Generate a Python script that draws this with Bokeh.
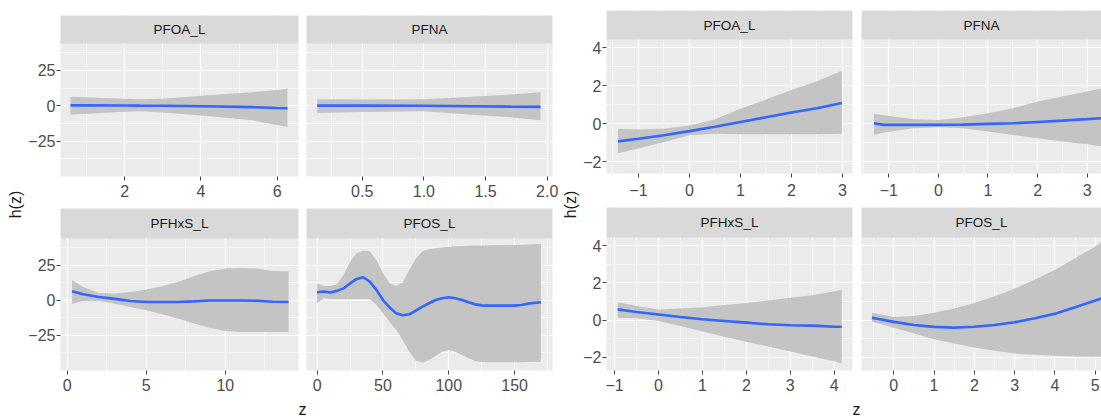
from bokeh.plotting import figure
from bokeh.layouts import row, column
from bokeh.models import Range1d, FixedTicker, BoxAnnotation, Label, NumeralTickFormatter
from bokeh.embed import file_html
from bokeh.resources import INLINE
from bokeh.core.properties import value

FONT = "Liberation Sans"

# ---------------- data: left model (A) ----------------
A_PFOA_L_z = [0.58, 1.0, 2.0, 2.4, 3.0, 4.07, 5.34, 6.0, 6.27]
A_PFOA_L_est = [0.3, 0.3, 0.2, 0.1, 0.0, -0.4, -1.0, -1.6, -1.8]
A_PFOA_L_hi = [6.4, 6.0, 5.0, 4.6, 5.0, 7.2, 9.5, 11.2, 12.0]
A_PFOA_L_lo = [-6.4, -5.6, -4.3, -3.9, -4.8, -7.0, -10.3, -13.6, -15.0]

A_PFNA_z = [0.135, 0.5, 1.0, 1.39, 1.7, 1.946]
A_PFNA_est = [0.1, 0.1, 0.0, -0.3, -0.6, -0.8]
A_PFNA_hi = [4.6, 4.4, 4.6, 6.4, 8.0, 9.5]
A_PFNA_lo = [-5.2, -4.4, -3.9, -6.4, -8.2, -10.3]

A_PFHxS_L_z = [0.3, 1, 2, 3, 4, 5, 6, 7, 8, 9, 10, 11, 12, 13, 14]
A_PFHxS_L_est = [6.4, 4.3, 2.4, 1.0, -0.5, -1.2, -1.2, -1.2, -0.8, -0.2, -0.1, -0.1, -0.3, -1.0, -1.2]
A_PFHxS_L_hi = [14.3, 9.5, 5.2, 4.8, 5.9, 7.6, 10.0, 13.0, 17.1, 20.7, 22.6, 23.0, 22.6, 20.9, 20.7]
A_PFHxS_L_lo = [-2.4, -0.5, -0.5, -2.4, -4.8, -7.1, -10.0, -13.0, -16.6, -19.5, -21.9, -22.6, -22.6, -22.6, -22.6]

A_PFOS_L_z = [0, 5, 10, 15, 20, 25, 30, 35, 40, 45, 50, 55, 60, 65, 70, 75, 80, 85, 90, 95,
              100, 105, 110, 115, 120, 125, 130, 140, 150, 155, 160, 170]
A_PFOS_L_est = [5.7, 6.2, 5.5, 6.7, 8.5, 12.0, 15.2, 16.4, 13.3, 7.4, 0.2, -5.0, -9.3, -10.7, -10.0, -7.4,
                -4.5, -2.1, 0.2, 1.4, 2.1, 1.4, 0.2, -1.4, -2.9, -3.6, -3.8, -3.8, -3.8, -3.3, -2.4, -1.4]
A_PFOS_L_hi = [12.0, 10.2, 10.2, 11.4, 18.0, 27.5, 33.5, 35.4, 34.7, 28.7, 19.2, 12.1, 10.2, 12.6, 21.6, 29.9,
               34.7, 36.3, 37.0, 37.6, 38.2, 38.4, 38.7, 38.8, 39.0, 39.1, 39.2, 39.3, 39.4, 39.6, 39.8, 40.1]
A_PFOS_L_lo = [-2.1, 1.4, 1.0, 1.0, 1.0, 1.0, 1.0, 1.0, 1.0, -3.3, -9.3, -15.2, -21.1, -28.3, -36.6, -43.0,
               -44.4, -42.5, -39.7, -36.6, -35.4, -36.6, -39.0, -41.3, -43.2, -44.0, -44.2, -44.2, -44.2, -44.1, -44.0, -43.7]

# ---------------- data: right model (B) ----------------
B_PFOA_L_z = [-1.4, -1.0, -0.5, 0.0, 0.5, 1.0, 1.5, 2.0, 2.5, 2.99]
B_PFOA_L_est = [-0.92, -0.78, -0.6, -0.38, -0.15, 0.1, 0.35, 0.6, 0.82, 1.1]
B_PFOA_L_hi = [-0.25, -0.3, -0.25, -0.08, 0.25, 0.8, 1.28, 1.78, 2.25, 2.8]
B_PFOA_L_lo = [-1.55, -1.3, -0.95, -0.6, -0.52, -0.55, -0.55, -0.55, -0.54, -0.52]

B_PFNA_z = [-1.3, -1.1, -0.5, 0.0, 0.5, 1.0, 1.5, 2.0, 2.5, 3.0, 3.3]
B_PFNA_est = [0.03, -0.05, -0.05, -0.05, -0.04, 0.0, 0.03, 0.1, 0.17, 0.25, 0.3]
B_PFNA_hi = [0.53, 0.45, 0.25, 0.21, 0.35, 0.56, 0.82, 1.18, 1.44, 1.7, 1.88]
B_PFNA_lo = [-0.58, -0.45, -0.23, -0.18, -0.23, -0.4, -0.58, -0.75, -0.93, -1.07, -1.19]

B_PFHxS_L_z = [-0.93, -0.5, 0.0, 0.5, 1.0, 1.5, 2.0, 2.5, 3.0, 3.5, 4.0, 4.17]
B_PFHxS_L_est = [0.57, 0.43, 0.3, 0.16, 0.04, -0.05, -0.14, -0.23, -0.28, -0.3, -0.36, -0.36]
B_PFHxS_L_hi = [0.96, 0.75, 0.57, 0.62, 0.69, 0.8, 0.92, 1.05, 1.19, 1.33, 1.55, 1.63]
B_PFHxS_L_lo = [0.12, 0.09, -0.05, -0.32, -0.62, -0.9, -1.16, -1.42, -1.69, -1.96, -2.22, -2.33]

B_PFOS_L_z = [-0.54, 0.0, 0.5, 1.0, 1.5, 2.0, 2.5, 3.0, 3.5, 4.0, 4.5, 5.0, 5.15]
B_PFOS_L_est = [0.12, -0.1, -0.27, -0.37, -0.41, -0.36, -0.27, -0.12, 0.09, 0.34, 0.69, 1.05, 1.16]
B_PFOS_L_hi = [0.39, 0.16, 0.21, 0.39, 0.62, 0.92, 1.28, 1.69, 2.17, 2.7, 3.32, 3.95, 4.2]
B_PFOS_L_lo = [-0.09, -0.41, -0.73, -1.03, -1.26, -1.48, -1.65, -1.8, -1.87, -1.92, -1.96, -1.97, -1.97]

# tick values
A_PFOA_L_xt = [2, 4, 6]
A_PFNA_xt = [0.5, 1.0, 1.5, 2.0]
A_PFHxS_L_xt = [0, 5, 10]
A_PFOS_L_xt = [0, 50, 100, 150]
A_yt = [-25, 0, 25]
B_PFOA_L_xt = [-1, 0, 1, 2, 3]
B_PFNA_xt = [-1, 0, 1, 2, 3]
B_PFHxS_L_xt = [-1, 0, 1, 2, 3, 4]
B_PFOS_L_xt = [0, 1, 2, 3, 4, 5]
B_yt = [-2, 0, 2, 4]

PANEL_BG = "#EBEBEB"
STRIP_BG = "#D9D9D9"
RIBBON = "#C4C4C4"
LINE = "#3366FF"


def minors(ticks, lo, hi):
    step = ticks[1] - ticks[0]
    cands = [ticks[0] - step / 2] + [t + step / 2 for t in ticks]
    return [c for c in cands if lo <= c <= hi]


def panel(title, z, est, lo, hi, xr, yr, xt, yt, width, height, mbl, mbr, mbt, mbb,
          strip_px, show_y, standoff=5, xfmt=None):
    frame_h = height - mbt - mbb
    panel_h = frame_h - strip_px
    y0, y1 = yr
    per_px = (y1 - y0) / panel_h
    ytop = y1 + strip_px * per_px
    p = figure(width=width, height=height, x_range=Range1d(xr[0], xr[1]),
               y_range=Range1d(y0, ytop), output_backend="svg", toolbar_location=None,
               y_axis_location="left" if show_y else None,
               min_border_left=mbl, min_border_right=mbr, min_border_top=mbt,
               min_border_bottom=mbb)
    p.background_fill_color = PANEL_BG
    p.border_fill_color = "white"
    p.outline_line_color = None

    xg = FixedTicker(ticks=xt, minor_ticks=minors(xt, xr[0], xr[1]))
    yg = FixedTicker(ticks=yt, minor_ticks=minors(yt, y0, y1))
    for g, t in ((p.xgrid, xg), (p.ygrid, yg)):
        g.ticker = t
        g.grid_line_color = "white"
        g.grid_line_width = 1.2
        g.minor_grid_line_color = "white"
        g.minor_grid_line_width = 0.6

    axes = [p.xaxis[0]] + ([p.yaxis[0]] if show_y else [])
    for ax in axes:
        ax.axis_line_color = None
        ax.major_tick_line_color = "#444444"
        ax.major_tick_line_width = 1
        ax.major_tick_out = 4
        ax.major_tick_in = 0
        ax.minor_tick_line_color = None
        ax.major_label_text_color = "#4D4D4D"
        ax.major_label_text_font = FONT
        ax.major_label_text_font_size = "16px"
    p.xaxis.ticker = FixedTicker(ticks=xt)
    p.xaxis.major_label_standoff = standoff
    if xfmt is not None:
        p.xaxis.formatter = xfmt
    if show_y:
        p.yaxis.ticker = FixedTicker(ticks=yt)
        p.yaxis.major_label_standoff = 1

    p.varea(x=z, y1=lo, y2=hi, fill_color=RIBBON, fill_alpha=1.0)
    p.line(x=z, y=est, line_color=LINE, line_width=2.6)

    strip = BoxAnnotation(bottom=y1, fill_color=STRIP_BG, fill_alpha=1.0, line_color=None)
    p.add_layout(strip)
    p.add_layout(Label(x=(xr[0] + xr[1]) / 2, y=y1 + strip_px * per_px / 2, text=title,
                       text_align="center", text_baseline="middle", text_font=FONT,
                       text_font_size="13.5px", text_color="#1A1A1A"))
    return p


def text_fig(width, height, xr, yr, tx, ty, txt, angle=0.0):
    f = figure(width=width, height=height, x_range=Range1d(*xr), y_range=Range1d(*yr),
               output_backend="svg", toolbar_location=None, x_axis_location=None,
               y_axis_location=None, min_border=0)
    f.min_border_left = f.min_border_right = f.min_border_top = f.min_border_bottom = 0
    f.outline_line_color = None
    f.xgrid.visible = False
    f.ygrid.visible = False
    f.background_fill_color = "white"
    f.text(x=[tx], y=[ty], text=[txt], angle=angle, text_align="center",
           text_baseline="middle", text_font=value(FONT), text_font_size="16px",
           text_color="#1A1A1A")
    return f


A_yr = (-50, 44)
a1 = panel("PFOA_L", A_PFOA_L_z, A_PFOA_L_est, A_PFOA_L_lo, A_PFOA_L_hi, (0.318, 6.56), A_yr,
           A_PFOA_L_xt, A_yt, 277, 203, 28, 4, 15, 27, 28, True, standoff=4)
b1 = panel("PFNA", A_PFNA_z, A_PFNA_est, A_PFNA_lo, A_PFNA_hi, (0.048, 2.043), A_yr,
           A_PFNA_xt, A_yt, 257, 203, 4, 7, 15, 27, 28, False, standoff=4,
           xfmt=NumeralTickFormatter(format="0.0"))
a2 = panel("PFHxS_L", A_PFHxS_L_z, A_PFHxS_L_est, A_PFHxS_L_lo, A_PFHxS_L_hi, (-0.43, 14.63), A_yr,
           A_PFHxS_L_xt, A_yt, 277, 194, 28, 4, 5, 27, 30, True, standoff=4)
b2 = panel("PFOS_L", A_PFOS_L_z, A_PFOS_L_est, A_PFOS_L_lo, A_PFOS_L_hi, (-8.1, 178.8), A_yr,
           A_PFOS_L_xt, A_yt, 257, 194, 4, 7, 5, 27, 30, False, standoff=4)

c1 = panel("PFOA_L", B_PFOA_L_z, B_PFOA_L_est, B_PFOA_L_lo, B_PFOA_L_hi, (-1.626, 3.197), (-2.61, 4.44),
           B_PFOA_L_xt, B_yt, 276, 203, 20, 4, 10, 30, 29, True, standoff=6)
d1 = panel("PFNA", B_PFNA_z, B_PFNA_est, B_PFNA_lo, B_PFNA_hi, (-1.55, 3.288), (-2.61, 4.44),
           B_PFNA_xt, B_yt, 245, 203, 5, 0, 10, 30, 29, False, standoff=6)
c2 = panel("PFHxS_L", B_PFHxS_L_z, B_PFHxS_L_est, B_PFHxS_L_lo, B_PFHxS_L_hi, (-1.184, 4.416), (-2.71, 4.43),
           B_PFHxS_L_xt, B_yt, 276, 194, 20, 4, 4, 27, 30, True, standoff=4)
d2 = panel("PFOS_L", B_PFOS_L_z, B_PFOS_L_est, B_PFOS_L_lo, B_PFOS_L_hi, (-0.80, 5.154), (-2.71, 4.43),
           B_PFOS_L_xt, B_yt, 245, 194, 5, 0, 4, 27, 30, False, standoff=4)

ylabL = text_fig(25, 417, (0, 25), (417, 0), 15, 204, "h(z)", angle=1.5708)
ylabR = text_fig(21, 417, (559, 580), (417, 0), 570, 204, "h(z)", angle=1.5708)
zL = text_fig(534, 20, (25, 559), (417, 397), 302, 409, "z")
zR = text_fig(521, 20, (580, 1101), (417, 397), 856, 409, "z")

colL = column(row(a1, b1, spacing=0), row(a2, b2, spacing=0), zL, spacing=0)
colR = column(row(c1, d1, spacing=0), row(c2, d2, spacing=0), zR, spacing=0)
root = row(ylabL, colL, ylabR, colR, spacing=0)

open("out.html", "w").write(file_html(root, INLINE))
